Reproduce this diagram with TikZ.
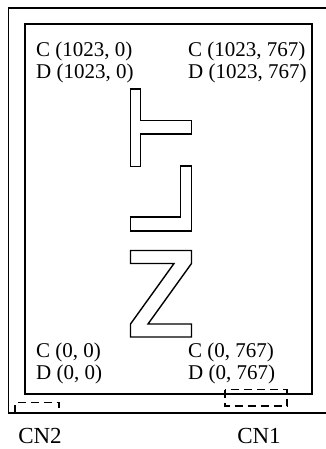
\documentclass[tikz,border=0pt]{standalone}
\usepackage{fontspec}
\setmainfont{Liberation Serif}
\usepackage{tikz}
\usetikzlibrary{arrows.meta,calc,positioning}
\newlength{\px}

\begin{document}
\begin{tikzpicture}
    [   coord/.style = {anchor=base west,inner sep=0pt,font=\fontsize{21}{22}\selectfont},
        conn/.style  = {anchor=base,inner sep=0pt,font=\fontsize{23}{25}\selectfont},
        frame/.style = {line width=1.4\px},
        panel/.style = {line width=2\px},
        glyph/.style = {line width=1.4\px,line join=miter},
        plug/.style  = {line width=1.4\px,dash pattern=on 8\px off 5\px}
    ]
    \setlength{\px}{1pt}
    \useasboundingbox (0\px,0\px) rectangle (325\px,-449\px);
    % Outer frame
    \draw[frame] (326\px,-8\px) -- (8.5\px,-8\px) -- (8.5\px,-413\px) -- (326\px,-413\px);
    % Panel
    \draw[panel] (25\px,-24\px) rectangle (312\px,-394\px);
    % T
    \draw[glyph] (130.5\px,-89\px) -- (140.5\px,-89\px) -- (140.5\px,-120.5\px)
        -- (191.5\px,-120.5\px) -- (191.5\px,-134\px) -- (140.5\px,-134\px)
        -- (140.5\px,-166.5\px) -- (130.5\px,-166.5\px) -- cycle;
    % L
    \draw[glyph] (180.5\px,-166\px) -- (191.5\px,-166\px) -- (191.5\px,-231\px)
        -- (130.5\px,-231\px) -- (130.5\px,-217\px) -- (180.5\px,-217\px) -- cycle;
    % Z
    \draw[glyph] (130.5\px,-250.5\px) -- (191.5\px,-250.5\px) -- (191.5\px,-263.5\px)
        -- (148\px,-324\px) -- (191.5\px,-324\px) -- (191.5\px,-337\px)
        -- (130.5\px,-337\px) -- (130.5\px,-324\px) -- (174\px,-263.5\px)
        -- (130.5\px,-263.5\px) -- cycle;
    % Corner values
    \node[coord] (tl-c) at (36\px,-57\px)  {C (1023, 0)};
    \node[coord] (tl-d) at (36\px,-79\px)  {D (1023, 0)};
    \node[coord] (tr-c) at (188\px,-57\px) {C (1023, 767)};
    \node[coord] (tr-d) at (188\px,-79\px) {D (1023, 767)};
    \node[coord] (bl-c) at (36\px,-357\px)  {C (0, 0)};
    \node[coord] (bl-d) at (36\px,-379\px)  {D (0, 0)};
    \node[coord] (br-c) at (188\px,-357\px) {C (0, 767)};
    \node[coord] (br-d) at (188\px,-379\px) {D (0, 767)};
    % Connectors
    \draw[plug] (225\px,-389.5\px) rectangle (287\px,-406\px);
    \draw[plug] (15\px,-413\px) -- (15\px,-402.5\px) -- (59\px,-402.5\px) -- (59\px,-413\px);
    \node[conn] (cn2) at (40\px,-443\px)  {CN2};
    \node[conn] (cn1) at (259\px,-443\px) {CN1};
\end{tikzpicture}
\end{document}
